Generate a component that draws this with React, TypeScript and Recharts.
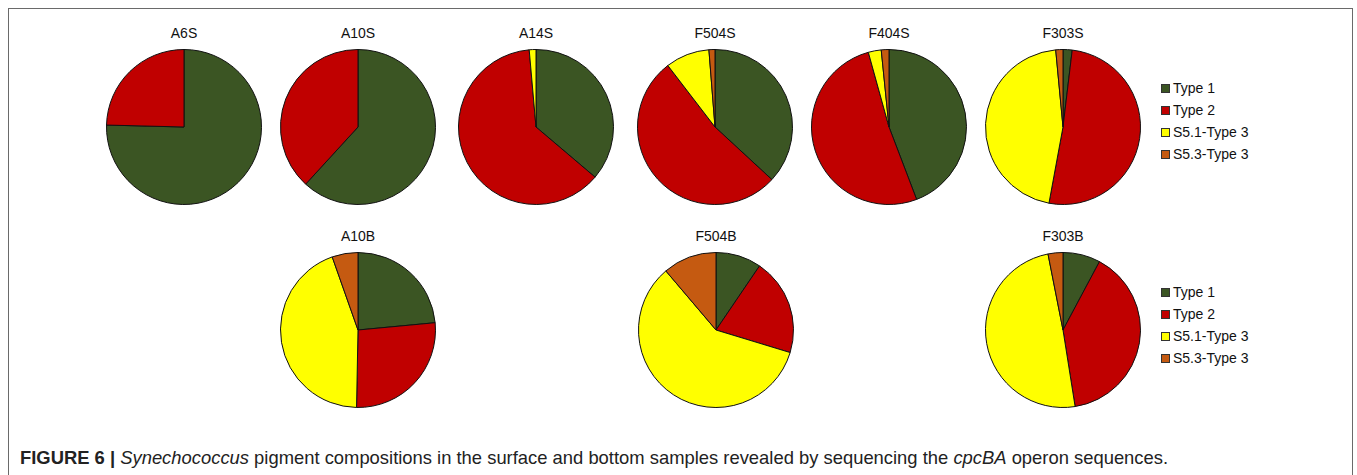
import React from "react"
import { PieChart, Pie, Cell } from "recharts"

const categories = ["Type 1", "Type 2", "S5.1-Type 3", "S5.3-Type 3"]
const colors = ["#3b5523", "#c00000", "#ffff00", "#c55a11"]

// percentages per sample, in category order
const surfaceSamples = ["A6S", "A10S", "A14S", "F504S", "F404S", "F303S"]
const a6s = [75.4, 24.6, 0, 0]
const a10s = [61.8, 38.2, 0, 0]
const a14s = [36.2, 62.4, 1.4, 0]
const f504s = [35.4, 50.6, 8.8, 1.2]
const f404s = [44.2, 51.5, 2.7, 1.6]
const f303s = [1.9, 51.0, 45.6, 1.5]

const bottomSamples = ["A10B", "F504B", "F303B"]
const a10b = [23.5, 26.8, 44.3, 5.4]
const f504b = [9.5, 20.2, 59.1, 11.2]
const f303b = [7.8, 39.7, 49.4, 3.1]

const surfaceValues = [a6s, a10s, a14s, f504s, f404s, f303s]
const bottomValues = [a10b, f504b, f303b]

const topX = [184, 358, 536, 715, 889, 1063]
const bottomX = [358, 716, 1063]
const R = 77.5
const SIZE = 170
const font = "'Liberation Sans', Arial, sans-serif"

function SamplePie({ name, values, x, y }: { name: string; values: number[]; x: number; y: number }) {
  const data = categories
    .map((c, i) => ({ name: c, value: values[i], color: colors[i] }))
    .filter((d) => d.value > 0)
  return (
    <>
      <div
        style={{
          position: "absolute",
          left: x - 60,
          top: y - 103,
          width: 120,
          textAlign: "center",
          fontSize: 14,
          fontFamily: font,
          color: "#111",
          lineHeight: "18px",
        }}
      >
        {name}
      </div>
      <div style={{ position: "absolute", left: x - SIZE / 2, top: y - SIZE / 2 }}>
        <PieChart width={SIZE} height={SIZE} margin={{ top: 0, right: 0, bottom: 0, left: 0 }}>
          <Pie
            data={data}
            dataKey="value"
            cx="50%"
            cy="50%"
            outerRadius={R}
            startAngle={90}
            endAngle={-270}
            stroke="#111"
            strokeWidth={1}
            isAnimationActive={false}
          >
            {data.map((d, i) => (
              <Cell key={i} fill={d.color} />
            ))}
          </Pie>
        </PieChart>
      </div>
    </>
  )
}

function LegendBox({ top }: { top: number }) {
  return (
    <div style={{ position: "absolute", left: 1161, top, fontFamily: font, fontSize: 14, color: "#111" }}>
      {categories.map((c, i) => (
        <div key={c} style={{ display: "flex", alignItems: "center", height: 22 }}>
          <span
            style={{
              width: 7,
              height: 7,
              border: "1px solid #333",
              backgroundColor: colors[i],
              marginRight: 3,
            }}
          />
          <span>{c}</span>
        </div>
      ))}
    </div>
  )
}

export default function App() {
  return (
    <div style={{ position: "absolute", left: 0, top: 0, width: 1357, height: 475, background: "#fff", overflow: "hidden" }}>
      <div
        style={{
          position: "absolute",
          left: 8,
          top: 8,
          width: 1345,
          height: 480,
          border: "1.5px solid #6a6a6a",
          boxSizing: "border-box",
        }}
      />
      {surfaceSamples.map((s, i) => (
        <SamplePie key={s} name={s} values={surfaceValues[i]} x={topX[i]} y={127} />
      ))}
      {bottomSamples.map((s, i) => (
        <SamplePie key={s} name={s} values={bottomValues[i]} x={bottomX[i]} y={330} />
      ))}
      <LegendBox top={77} />
      <LegendBox top={281} />
      <div
        style={{
          position: "absolute",
          left: 20,
          top: 448,
          fontFamily: font,
          fontSize: 18.4,
          color: "#222",
          whiteSpace: "nowrap",
          lineHeight: "20px",
        }}
      >
        <b>FIGURE 6 | </b>
        <i>Synechococcus</i> pigment compositions in the surface and bottom samples revealed by sequencing the{" "}
        <i>cpcBA</i> operon sequences.
      </div>
    </div>
  )
}
